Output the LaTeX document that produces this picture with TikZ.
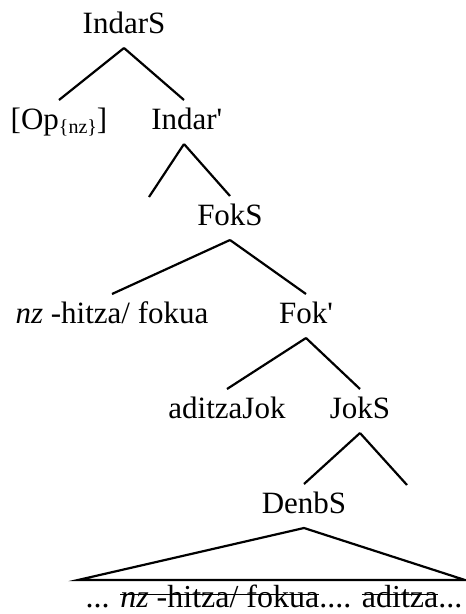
\documentclass[tikz,border=0pt]{standalone}
\usepackage{fontspec}
\setmainfont{Liberation Serif}
\newcommand\strk[1]{\setbox0=\hbox{#1}\leavevmode\rlap{\rule[0.36em]{\wd0}{1.3pt}}\box0}
\newcommand\apos{\textquotesingle}
\begin{document}
\begin{tikzpicture}[x=1pt,y=-1pt,
  lbl/.style={inner sep=0pt, outer xsep=0pt, outer ysep=8pt, anchor=base,
    font=\fontsize{31}{36}\selectfont, text height=21pt, text depth=7pt},
  branch/.style={line width=2.2pt}]
\useasboundingbox (0,0) rectangle (466,614);
\node[lbl] (indarS) at (124,33) {IndarS};
\node[lbl] (op) at (59,129) {[Op\raisebox{-4pt}{\fontsize{20}{22}\selectfont\{nz\}}]};
\node[lbl] (indar) at (184,129) {Indar\rlap{\apos}};
\node[lbl] (fokS) at (230,225) {FokS};
\node[lbl] (nz) at (112,323) {\textit{nz} -hitza/ fokua};
\node[lbl] (fok) at (306,323) {Fok\apos};
\node[lbl] (aditza) at (227,418) {aditzaJok};
\node[lbl] (jokS) at (360,418) {JokS};
\node[lbl] (denbS) at (304,513) {DenbS};
\node[lbl, font=\fontsize{32}{36}\selectfont] (bottom) at (274,607) {... \strk{\textit{nz} -hitza/ fokua}.... \strk{aditza}...};
\coordinate (e1) at (149,197);
\coordinate (e2) at (407,485);
\coordinate (tl) at (78,580);
\coordinate (tr) at (465,580);
\draw[branch] (indarS.south) -- (op.north);
\draw[branch] (indarS.south) -- (indar.north);
\draw[branch] (indar.south) -- (e1);
\draw[branch] (indar.south) -- (fokS.north);
\draw[branch] (fokS.south) -- (nz.north);
\draw[branch] (fokS.south) -- (fok.north);
\draw[branch] (fok.south) -- (aditza.north);
\draw[branch] (fok.south) -- (jokS.north);
\draw[branch] (jokS.south) -- (denbS.north);
\draw[branch] (jokS.south) -- (e2);
\draw[branch] (denbS.south) -- (tl) -- (tr) -- cycle;
\end{tikzpicture}
\end{document}
